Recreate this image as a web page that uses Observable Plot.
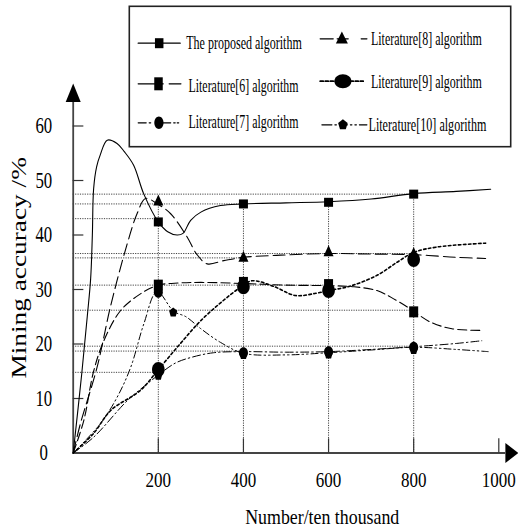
<!DOCTYPE html>
<html><head><meta charset="utf-8">
<script src="https://cdn.jsdelivr.net/npm/d3@7"></script>
<script src="https://cdn.jsdelivr.net/npm/@observablehq/plot@0.6"></script>
<style>
body{margin:0;background:#fff;}
#wrap{position:relative;width:518px;height:530px;}
#legend{position:absolute;left:128px;top:5px;}
</style></head><body><div id="wrap"><div id="chart"></div><div id="legend"></div></div>
<script>
// ---------- data ----------
const xTicks = [200, 400, 600, 800, 1000];
const yTicks = [0, 10, 20, 30, 40, 50, 60];
const xTitle = "Number/ten thousand";
const yTitle = "Mining accuracy /%";
const seriesNames = ["The proposed algorithm", "Literature[6] algorithm", "Literature[7] algorithm",
  "Literature[8] algorithm", "Literature[9] algorithm", "Literature[10] algorithm"];

const proposedX = [0, 20, 33, 41, 45, 48, 55, 64, 80, 103, 120, 142, 166, 200, 222, 244, 258, 276, 300, 346, 400, 500, 600, 700, 800, 900, 981];
const proposedY = [0, 14.5, 25, 32, 40, 48.5, 52.5, 54.8, 57.4, 56.8, 55.3, 52.8, 47.5, 42.4, 40.6, 40, 40.3, 42.7, 44.2, 45.4, 45.7, 45.9, 46.1, 46.6, 47.6, 48, 48.4];
const lit6X = [0, 25, 48, 72, 111, 158, 200, 250, 300, 400, 500, 600, 660, 714, 746, 785, 800, 840, 890, 957];
const lit6Y = [0, 6, 15, 20.6, 26.1, 29.2, 30.8, 31.2, 31.3, 31.1, 30.8, 30.7, 30.5, 29.8, 28.6, 26.8, 26, 24, 22.8, 22.5];
const lit7X = [0, 64, 103, 135, 166, 197, 236, 265, 300, 346, 400, 500, 600, 700, 800, 900, 975];
const lit7Y = [0, 5.4, 10.2, 15.7, 23.7, 29.6, 26, 25, 22.8, 20.3, 18.3, 18.0, 18.4, 18.9, 19.4, 19.0, 18.6];
const lit8X = [0, 17, 56, 88, 127, 150, 170, 200, 229, 268, 290, 315, 354, 400, 487, 600, 700, 800, 900, 969];
const lit8Y = [0, 5.4, 15.7, 27, 38.4, 43.9, 46.7, 45.6, 43.9, 39.6, 36.5, 34.7, 35.3, 35.9, 36.3, 36.6, 36.5, 36.4, 35.9, 35.7];
const lit9X = [0, 48, 88, 158, 200, 252, 300, 350, 393, 420, 470, 522, 570, 600, 650, 714, 761, 800, 855, 969];
const lit9Y = [0, 3.6, 7.8, 11.5, 15.3, 20.1, 24.3, 27.8, 30.4, 31.6, 30.6, 28.9, 29.3, 29.8, 30.6, 32.6, 35, 36.8, 37.8, 38.5];
const lit10X = [0, 48, 127, 174, 200, 240, 280, 330, 400, 500, 600, 700, 800, 900, 960];
const lit10Y = [0, 2.9, 9.6, 12.7, 14.3, 16.5, 17.6, 18.4, 18.6, 18.5, 18.6, 19.0, 19.5, 20.1, 20.6];

const proposedMarkX = [200, 400, 600, 800], proposedMarkY = [42.4, 45.7, 46.0, 47.5];
const lit6MarkX = [200, 400, 600, 800], lit6MarkY = [30.8, 31.3, 30.9, 25.9];
const lit7MarkX = [200, 400, 600, 800], lit7MarkY = [29.5, 18.4, 18.6, 19.4];
const lit8MarkX = [200, 400, 600, 800], lit8MarkY = [46.2, 35.9, 36.9, 36.6];
const lit9MarkX = [200, 400, 600, 800], lit9MarkY = [15.3, 30.5, 29.8, 35.5];
const lit10MarkX = [200, 235, 400, 600, 800], lit10MarkY = [14.2, 25.8, 18.0, 18.1, 18.9];

// dotted read-off guides
const guideY = [47.5, 45.7, 43.0, 36.6, 35.8, 30.8, 26.2, 19.6, 18.7, 14.8];
const guideEnd = [800, 400, 200, 800, 400, 600, 800, 800, 400, 200];
const vGuideX = [200, 400, 600, 800];
const vGuideTop = [46.2, 45.7, 46.0, 47.5];

// ---------- helpers ----------
const pts = (xs, ys) => xs.map((x, i) => ({x, y: ys[i]}));
const rectSym = (w, h) => ({draw(c) { c.rect(-w / 2, -h / 2, w, h); }});
const triSym = (w, h) => ({draw(c) { c.moveTo(0, -h * 0.6); c.lineTo(w / 2, h * 0.4); c.lineTo(-w / 2, h * 0.4); c.closePath(); }});
const ellSym = (rx, ry) => ({draw(c) {
  const k = 0.5523;
  c.moveTo(rx, 0);
  c.bezierCurveTo(rx, ry * k, rx * k, ry, 0, ry);
  c.bezierCurveTo(-rx * k, ry, -rx, ry * k, -rx, 0);
  c.bezierCurveTo(-rx, -ry * k, -rx * k, -ry, 0, -ry);
  c.bezierCurveTo(rx * k, -ry, rx, -ry * k, rx, 0);
  c.closePath();
}});
const pentSym = (rx, ry) => ({draw(c) {
  for (let i = 0; i < 5; i++) {
    const a = -Math.PI / 2 + i * 2 * Math.PI / 5;
    const px = rx * Math.cos(a), py = ry * Math.sin(a);
    if (i === 0) c.moveTo(px, py); else c.lineTo(px, py);
  }
  c.closePath();
}});
const arrowUp = {draw(c) { c.moveTo(0, 0); c.lineTo(7.5, 18.5); c.lineTo(-7.5, 18.5); c.closePath(); }};
const arrowRight = {draw(c) { c.moveTo(0, 0); c.lineTo(-13, -10); c.lineTo(-13, 10); c.closePath(); }};

const series = [
  {name: seriesNames[0], line: pts(proposedX, proposedY), marks: pts(proposedMarkX, proposedMarkY), dash: null, w: 1.1, sym: rectSym(9, 9), lsym: rectSym(8.5, 10)},
  {name: seriesNames[1], line: pts(lit6X, lit6Y), marks: pts(lit6MarkX, lit6MarkY), dash: "9,4", w: 1.1, sym: rectSym(9, 11), lsym: rectSym(8.5, 13)},
  {name: seriesNames[2], line: pts(lit7X, lit7Y), marks: pts(lit7MarkX, lit7MarkY), dash: "7,3,1.5,3,1.5,3", w: 1, sym: ellSym(4.5, 5.5), lsym: ellSym(4.6, 6.2)},
  {name: seriesNames[3], line: pts(lit8X, lit8Y), marks: pts(lit8MarkX, lit8MarkY), dash: "12,5", w: 1.1, sym: triSym(10, 11), lsym: triSym(12, 12)},
  {name: seriesNames[4], line: pts(lit9X, lit9Y), marks: pts(lit9MarkX, lit9MarkY), dash: "2.5,2.5", w: 1.6, sym: ellSym(6.3, 7.5), lsym: ellSym(8.5, 7)},
  {name: seriesNames[5], line: pts(lit10X, lit10Y), marks: pts(lit10MarkX, lit10MarkY), dash: "8,3,1.5,3", w: 1, sym: pentSym(4.3, 5), lsym: pentSym(5, 5.5)}
];

const font = "'Liberation Serif', 'Times New Roman', serif";
const gridStroke = "#444";

const chart = Plot.plot({
  width: 518, height: 530,
  marginLeft: 72.7, marginRight: 19.7, marginTop: 125.5, marginBottom: 77.5,
  x: {domain: [0, 1000], axis: null},
  y: {domain: [0, 60], axis: null},
  style: {fontFamily: font, color: "#000", background: "#fff", overflow: "visible"},
  marks: [
    Plot.ruleY(pts(guideEnd, guideY), {y: "y", x1: 0, x2: "x", stroke: gridStroke, strokeWidth: 1, strokeDasharray: "1.2,1.2"}),
    Plot.ruleX(pts(vGuideX, vGuideTop), {x: "x", y1: 0, y2: "y", stroke: gridStroke, strokeWidth: 1, strokeDasharray: "1.2,1.2"}),
    Plot.ruleY([0], {x1: 0, x2: 1016, stroke: "#444", strokeWidth: 1.8}),
    Plot.ruleX([0], {y1: 0, y2: 65, stroke: "#444", strokeWidth: 1.8}),
    Plot.ruleX(xTicks, {y1: 0, y2: 2.6, stroke: "#333", strokeWidth: 1.2}),
    Plot.ruleY(yTicks.filter(v => v > 0), {x1: 0, x2: 25, stroke: "#333", strokeWidth: 1.2}),
    Plot.dot([{x: 0, y: 67.8}], {x: "x", y: "y", symbol: arrowUp, fill: "#000", stroke: "none"}),
    Plot.dot([{x: 1046, y: 0}], {x: "x", y: "y", symbol: arrowRight, fill: "#000", stroke: "none"}),
    ...series.map(s => Plot.line(s.line, {x: "x", y: "y", curve: "catmull-rom", stroke: "#000", strokeWidth: s.w, strokeDasharray: s.dash})),
    ...series.map(s => Plot.dot(s.marks, {x: "x", y: "y", symbol: s.sym, fill: "#000", stroke: "none"})),
    Plot.text(xTicks, {x: d => d, text: d => String(d), frameAnchor: "bottom", dy: 27.3, lineAnchor: "middle", fontSize: 20, fontFamily: font, fill: "#000"}),
    Plot.text(yTicks, {y: d => d, text: d => String(d), frameAnchor: "left", dx: -29.4, textAnchor: "middle", lineAnchor: "middle", fontSize: 23, fontFamily: font, fill: "#000"}),
    Plot.text([xTitle], {frameAnchor: "bottom", dx: 36.2, dy: 64, lineAnchor: "middle", fontSize: 21, fontFamily: font, fill: "#000"}),
    Plot.text([yTitle], {frameAnchor: "left", dx: -54.3, dy: 89, rotate: -90, textAnchor: "start", lineAnchor: "middle", fontSize: 21, fontFamily: font, fill: "#000"})
  ]
});
document.getElementById("chart").appendChild(chart);

// ---------- legend ----------
const legendLayout = [
  {lx0: 9.7, lx1: 51.7, mx: 30.7, ly: 37.7, tx: 57.7, ty: 37, tw: 115.7, dash: null},
  {lx0: 9.7, lx1: 52.4, mx: 30, ly: 78.3, tx: 60, ty: 80, tw: 110, dash: "25,6,12"},
  {lx0: 9.7, lx1: 52.4, mx: 30.4, ly: 117.3, tx: 60, ty: 116.7, tw: 110, dash: "8,3,1.5,12,8,3,1.5,2,1.5,3"},
  {lx0: 191.7, lx1: 238.4, mx: 213.4, ly: 33.3, tx: 242.4, ty: 33, tw: 111, dash: "13,4,11,13,6"},
  {lx0: 191.7, lx1: 235, mx: 214.4, ly: 75.7, tx: 242.4, ty: 76.7, tw: 111, dash: "3,2"},
  {lx0: 193.4, lx1: 238.4, mx: 214.4, ly: 119.3, tx: 240, ty: 119.3, tw: 118, dash: "10,3,1.5,3,8,3,1.5,3,1.5,3,10"}
];
const legend = Plot.plot({
  width: 383, height: 142, margin: 0,
  x: {domain: [0, 383], axis: null},
  y: {domain: [142, 0], axis: null},
  style: {fontFamily: font, background: "transparent", overflow: "visible"},
  marks: [
    Plot.frame({stroke: "#222", strokeWidth: 1.6, fill: "#fff", inset: 0.8}),
    ...series.map((s, i) => {
      const L = legendLayout[i];
      return Plot.line([{x: L.lx0, y: L.ly}, {x: L.lx1, y: L.ly}], {x: "x", y: "y", stroke: "#000", strokeWidth: s.w + 0.2, strokeDasharray: L.dash});
    }),
    ...series.map((s, i) => {
      const L = legendLayout[i];
      return Plot.dot([{x: L.mx, y: L.ly}], {x: "x", y: "y", symbol: s.lsym, fill: "#000", stroke: "none"});
    }),
    Plot.text(series.map((s, i) => ({t: s.name, x: legendLayout[i].tx, y: legendLayout[i].ty})),
      {x: "x", y: "y", text: "t", textAnchor: "start", lineAnchor: "middle", fontSize: 19, fontFamily: font, fill: "#000"})
  ]
});
document.getElementById("legend").appendChild(legend);

// ---------- mimic the reference's vertically stretched glyphs ----------
// horizontal texts: squeeze horizontally about their anchor point with a transform
function squeeze(t, k) {
  const b = t.getBBox();
  const anchor = t.getAttribute("text-anchor") || getComputedStyle(t).textAnchor || "start";
  const x0 = anchor === "middle" ? b.x + b.width / 2 : anchor === "end" ? b.x + b.width : b.x;
  const prev = t.getAttribute("transform") || "";
  t.setAttribute("transform", `${prev} translate(${x0.toFixed(2)},0) scale(${k.toFixed(4)},1) translate(${(-x0).toFixed(2)},0)`.trim());
}
const factors = new Map([
  ...xTicks.map(v => [String(v), 0.85]),
  ...yTicks.map(v => [String(v), 0.73]),
  [xTitle, 0.85]
]);
chart.querySelectorAll("text").forEach(t => {
  if (t.textContent === yTitle) {
    t.setAttribute("textLength", (t.getComputedTextLength() * 1.3).toFixed(1));
    t.setAttribute("lengthAdjust", "spacingAndGlyphs");
    return;
  }
  const k = factors.get(t.textContent);
  if (k != null) squeeze(t, k);
});
const legendWidths = new Map(series.map((s, i) => [s.name, legendLayout[i].tw]));
legend.querySelectorAll("text").forEach(t => {
  const w = legendWidths.get(t.textContent);
  if (w == null) return;
  squeeze(t, w / t.getComputedTextLength());
});
</script>
</body></html>
